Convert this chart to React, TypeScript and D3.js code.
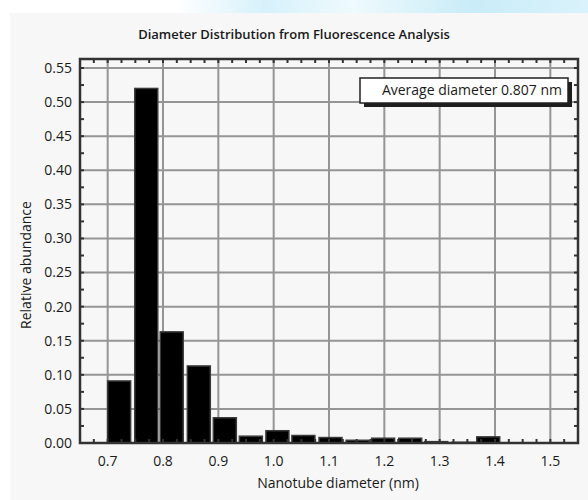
import React from "react";
import * as d3 from "d3";

// bin start (nm) and relative abundance
const binStarts = [0.700, 0.749, 0.795, 0.844, 0.891, 0.938, 0.986, 1.033, 1.082, 1.131, 1.177, 1.226, 1.273, 1.322, 1.367];
const abundance = [0.091, 0.52, 0.163, 0.113, 0.037, 0.010, 0.018, 0.011, 0.008, 0.004, 0.007, 0.007, 0.002, 0.001, 0.009];
const binWidth = 0.0415;

const xTicks = [0.7, 0.8, 0.9, 1.0, 1.1, 1.2, 1.3, 1.4, 1.5];
const yTicks = [0, 0.05, 0.1, 0.15, 0.2, 0.25, 0.3, 0.35, 0.4, 0.45, 0.5, 0.55];

const title = "Diameter Distribution from Fluorescence Analysis";
const xLabel = "Nanotube diameter (nm)";
const yLabel = "Relative abundance";
const note = "Average diameter 0.807 nm";

const W = 588, H = 500;
const left = 80, right = 578, top = 59, bottom = 443;
const font = "'Open Sans', sans-serif";

export default function App() {
  const x = d3.scaleLinear().domain([0.65, 1.55]).range([left, right]);
  const y = d3.scaleLinear().domain([0, 0.55]).range([bottom, 68]);

  const xMinor = d3.range(0, 37).map(i => 0.65 + i * 0.025).filter(v => x(v) > left + 2 && x(v) < right - 2);
  const yMinor = d3.range(0, 23).map(i => i * 0.025).filter(v => y(v) > top + 2 && y(v) < bottom - 2);

  const data = binStarts.map((s, i) => ({ s, v: abundance[i] }));

  return (
    <svg width={W} height={H} style={{ position: "absolute", left: 0, top: 0 }}>
      <defs>
        <linearGradient id="sky" x1="0" x2="1" y1="0" y2="0">
          <stop offset="0" stopColor="#ffffff" />
          <stop offset="0.3" stopColor="#ffffff" />
          <stop offset="0.45" stopColor="#d6f1fb" />
          <stop offset="0.6" stopColor="#eefafd" />
          <stop offset="0.8" stopColor="#c9ecf8" />
          <stop offset="1" stopColor="#d9f2fb" />
        </linearGradient>
      </defs>
      <rect x={0} y={0} width={W} height={H} fill="#ffffff" />
      <rect x={0} y={0} width={W} height={14} fill="url(#sky)" />
      <rect x={10} y={13} width={W - 10} height={H - 13} fill="#f7f7f7" />

      <text x={294} y={34} dy="0.35em" textAnchor="middle" fontFamily={font} fontSize={13} fontWeight={600} fill="#1a1a1a">{title}</text>

      {/* grid */}
      <g stroke="#959595" strokeWidth={2}>
        {yTicks.filter(t => t > 0).map(t => (
          <line key={"gy" + t} x1={left} x2={right} y1={y(t)} y2={y(t)} />
        ))}
        {xTicks.map(t => (
          <line key={"gx" + t} x1={x(t)} x2={x(t)} y1={top} y2={bottom} />
        ))}
      </g>

      {/* bars */}
      <g fill="#000" stroke="#3a3a3a" strokeWidth={1.5}>
        {data.map(d => (
          <rect key={d.s} x={x(d.s)} width={x(d.s + binWidth) - x(d.s)} y={y(d.v)} height={Math.max(0.5, y(0) - y(d.v))} />
        ))}
      </g>

      {/* ticks */}
      <g stroke="#333" strokeWidth={2}>
        {xMinor.map(t => (
          <g key={"xm" + t}>
            <line x1={x(t)} x2={x(t)} y1={bottom} y2={bottom - 4} />
            <line x1={x(t)} x2={x(t)} y1={top} y2={top + 4} />
          </g>
        ))}
        {yMinor.map(t => (
          <g key={"ym" + t}>
            <line x1={left} x2={left + 4} y1={y(t)} y2={y(t)} />
            <line x1={right} x2={right - 4} y1={y(t)} y2={y(t)} />
          </g>
        ))}
      </g>

      {/* frame */}
      <rect x={left} y={top} width={right - left} height={bottom - top} fill="none" stroke="#333" strokeWidth={2.5} />

      {/* tick labels */}
      <g fontFamily={font} fontSize={14} fill="#1a1a1a">
        {yTicks.map(t => (
          <text key={"yl" + t} x={left - 8} y={y(t)} dy="0.35em" textAnchor="end">{d3.format(".2f")(t)}</text>
        ))}
        {xTicks.map(t => (
          <text key={"xl" + t} x={x(t)} y={461} dy="0.35em" textAnchor="middle">{d3.format(".1f")(t)}</text>
        ))}
      </g>

      <text x={338} y={483} dy="0.35em" textAnchor="middle" fontFamily={font} fontSize={14} fill="#1a1a1a">{xLabel}</text>
      <text transform={`translate(26,265) rotate(-90)`} textAnchor="middle" dy="0.35em" fontFamily={font} fontSize={14} fill="#1a1a1a">{yLabel}</text>

      {/* note box */}
      <rect x={364} y={82} width={208} height={25} fill="#1e1e1e" />
      <rect x={360} y={78} width={208} height={25} fill="#ffffff" stroke="#222" strokeWidth={1.5} />
      <text x={562} y={90.5} dy="0.35em" textAnchor="end" fontFamily={font} fontSize={14} fill="#1a1a1a">{note}</text>
    </svg>
  );
}
